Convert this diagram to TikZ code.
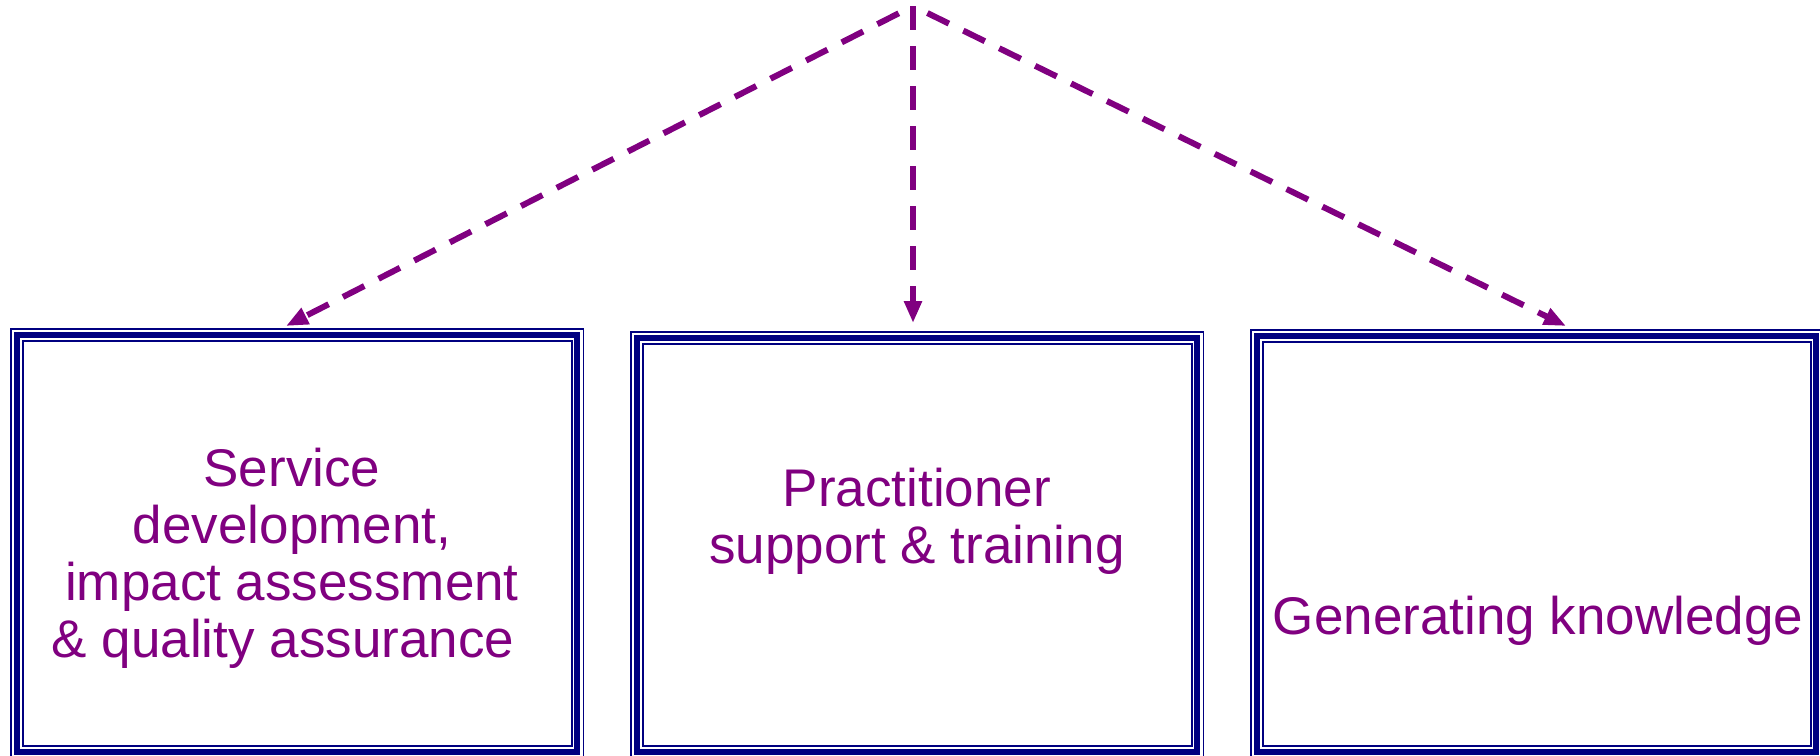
\documentclass[tikz,border=0pt]{standalone}
\usepackage{fontspec}
\setmainfont{Liberation Sans}
\usetikzlibrary{arrows.meta}
\definecolor{arrowpurple}{HTML}{800080}
\definecolor{boxnavy}{HTML}{000080}
\begin{document}
\begin{tikzpicture}[x=1pt,y=-1pt,
  conn/.style={draw=arrowpurple,line width=6pt,dash pattern=on 24pt off 16pt,-{Triangle[length=22pt,width=17pt]}},
  boxouter/.style={draw=boxnavy,line width=1.5pt,fill=white,inner sep=0pt,outer sep=0pt,anchor=north west},
  boxthick/.style={draw=boxnavy,line width=6pt},
  boxinner/.style={draw=boxnavy,line width=2pt},
  boxtext/.style={text=arrowpurple,font=\fontsize{53}{57}\selectfont,align=center,inner sep=0pt}
]
\useasboundingbox (0,0) rectangle (1820,755);
% connectors
\coordinate (top) at (913,6);
\coordinate (e1) at (286,326);
\coordinate (e2) at (913,323);
\coordinate (e3) at (1566,326);
\draw[conn,dash phase=24pt] (top) -- (e1);
\draw[conn] (top) -- (e2);
\draw[conn,dash phase=24pt] (top) -- (e3);
% boxes
\foreach \n/\xa/\xb/\ya in {b1/10/584/328, b2/630/1204/331, b3/1250/1823/329}{
  \node[boxouter,minimum width=\xb-\xa-1.5,minimum height=757-\ya] (\n) at (\xa+0.75,\ya+0.75) {};
  \draw[boxthick] ([shift={(6.25,6.25)}]\n.north west) rectangle ([shift={(-6.25,-6.25)}]\n.south east);
  \draw[boxinner] ([shift={(11.75,11.75)}]\n.north west) rectangle ([shift={(-11.75,-11.75)}]\n.south east);
}
% texts
\node[boxtext] (t1) at (292,558) {Service\\development,\\impact assessment\\\& quality assurance\kern18pt};
\node[boxtext] (t2) at (917,521) {Practitioner\\support \& training};
\node[boxtext,anchor=base] (t3) at (1538,634) {Generating knowledge};
\end{tikzpicture}
\end{document}
